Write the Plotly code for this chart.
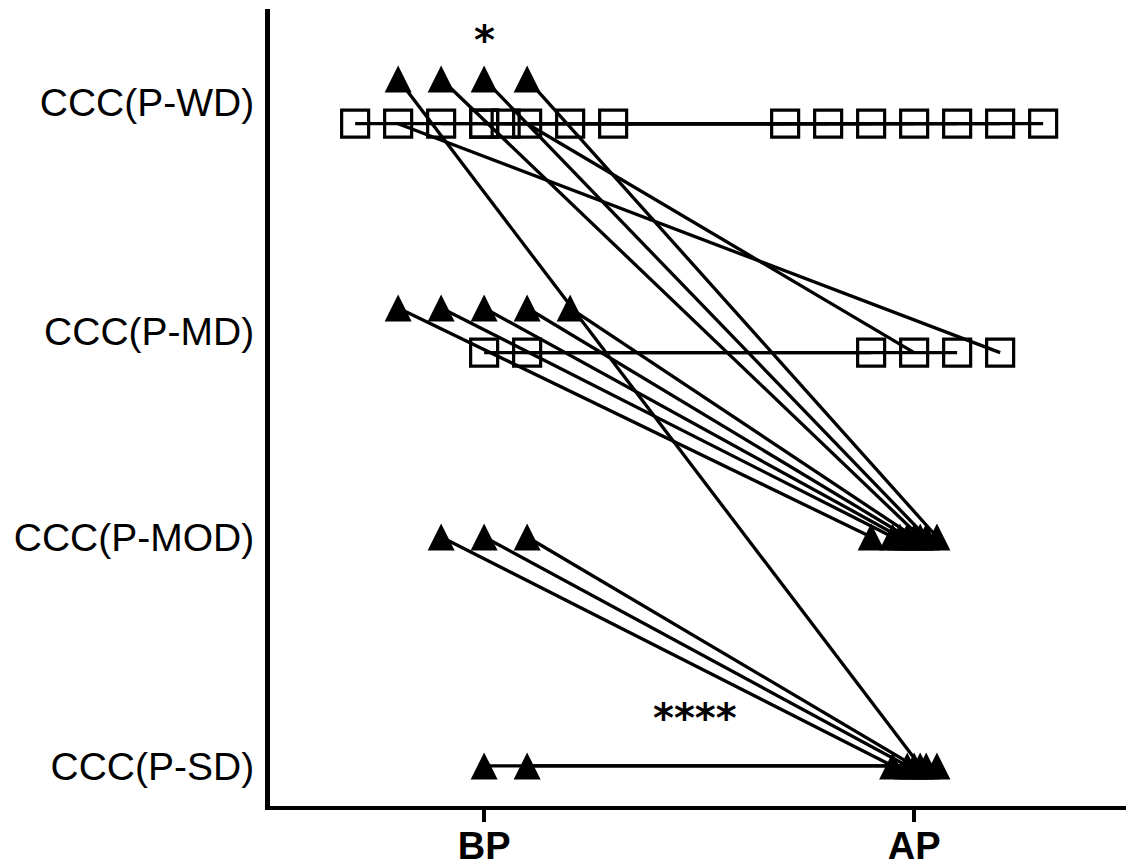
import plotly.graph_objects as go

# ---------------- data ----------------
level_names = ["CCC(P-SD)", "CCC(P-MOD)", "CCC(P-MD)", "CCC(P-WD)"]
timepoints = ["BP", "AP"]

# open-square group: one entry per subject (BP level, BP jitter slot, AP level, AP jitter slot)
sq_bp_level = ["WD", "WD", "WD", "WD", "WD", "WD", "WD", "WD", "WD", "MD", "MD"]
sq_bp_slot = [-3, -2, -1, 0, 0, 0.5, 1, 2, 3, 0, 1]
sq_ap_level = ["WD", "MD", "WD", "WD", "WD", "WD", "MD", "WD", "WD", "MD", "MD"]
sq_ap_slot = [3, 2, -3, -2, -1, 0, 0, 1, 2, -1, 1]

# filled-triangle group
tr_bp_level = ["WD", "WD", "WD", "WD",
               "MD", "MD", "MD", "MD", "MD",
               "MOD", "MOD", "MOD",
               "SD", "SD"]
tr_bp_slot = [-2, -1, 0, 1,
              -2, -1, 0, 1, 2,
              -1, 0, 1,
              0, 1]
tr_ap_level = ["SD", "MOD", "MOD", "MOD",
               "MOD", "MOD", "MOD", "MOD", "MOD",
               "SD", "SD", "SD",
               "SD", "SD"]
tr_ap_slot = [0.14, 0.14, 0.28, 0.53,
              -1, -0.5, -0.33, -0.16, 0,
              -0.5, -0.16, 0,
              0.28, 0.53]

sig_marks = ["*", "****"]

# ---------------- layout helpers ----------------
level_pos = {"SD": 1.0, "MOD": 2.0, "MD": 3.0, "WD": 4.0}
tick_pos = [1.0, 2.0, 2.9, 3.9]
square_drop = 0.195     # squares sit just below the triangles in shared rows
slot_w = 0.1
tp_pos = {"BP": 0.0, "AP": 1.0}
tri_shift = 13.5 / 229.0  # arrow-up tip sits at point; shift so the triangle is centred

fig = go.Figure()

def sq_y(lv):
    return level_pos[lv] - square_drop

# connecting lines (drawn first, under markers)
lx, ly = [], []
for bl, bs, al, as_ in zip(sq_bp_level, sq_bp_slot, sq_ap_level, sq_ap_slot):
    lx += [tp_pos["BP"] + bs * slot_w, tp_pos["AP"] + as_ * slot_w, None]
    ly += [sq_y(bl), sq_y(al), None]
for bl, bs, al, as_ in zip(tr_bp_level, tr_bp_slot, tr_ap_level, tr_ap_slot):
    lx += [tp_pos["BP"] + bs * slot_w, tp_pos["AP"] + as_ * slot_w, None]
    ly += [level_pos[bl], level_pos[al], None]
fig.add_trace(go.Scatter(x=lx, y=ly, mode="lines", line=dict(color="black", width=3.3),
                         hoverinfo="skip", showlegend=False))

# squares
sx = [tp_pos["BP"] + s * slot_w for s in sq_bp_slot] + [tp_pos["AP"] + s * slot_w for s in sq_ap_slot]
sy = [sq_y(l) for l in sq_bp_level] + [sq_y(l) for l in sq_ap_level]
fig.add_trace(go.Scatter(x=sx, y=sy, mode="markers",
                         marker=dict(symbol="square-open", size=27, color="black",
                                     line=dict(width=3.2, color="black")),
                         showlegend=False))

# triangles on an overlay axis shifted so the glyph is centred on its point
tx = [tp_pos["BP"] + s * slot_w for s in tr_bp_slot] + [tp_pos["AP"] + s * slot_w for s in tr_ap_slot]
ty = [level_pos[l] for l in tr_bp_level] + [level_pos[l] for l in tr_ap_level]
fig.add_trace(go.Scatter(x=tx, y=ty, mode="markers", yaxis="y2",
                         marker=dict(symbol="arrow-up", size=27, color="black",
                                     line=dict(width=0)),
                         showlegend=False))

yr = [0.825, 4.306]
fig.update_layout(
    width=1134, height=861,
    margin=dict(l=262, r=12, t=1, b=63),
    plot_bgcolor="white", paper_bgcolor="white",
    xaxis=dict(range=[-0.498, 1.502], tickvals=[tp_pos[t] for t in timepoints], ticktext=timepoints,
               showgrid=False, zeroline=False, showline=True, linecolor="black", linewidth=4,
               ticks="outside", ticklen=12, tickwidth=4, tickcolor="black", automargin=False,
               ticklabelstandoff=-9,
               tickfont=dict(family="Liberation Sans", size=38, color="black", weight="bold")),
    yaxis=dict(range=yr, tickvals=tick_pos, ticktext=[level_names[i] for i in range(4)],
               showgrid=False, zeroline=False, showline=True, linecolor="black", linewidth=5,
               ticks="", ticklabelstandoff=3, automargin=False,
               tickfont=dict(family="Liberation Sans", size=39, color="black")),
    yaxis2=dict(range=[yr[0] - tri_shift, yr[1] - tri_shift], overlaying="y", visible=False),
    annotations=[
        dict(x=0.0, y=4.17, xref="x", yref="y", text=sig_marks[0], showarrow=False,
             font=dict(family="DejaVu Sans", size=40, color="black", weight="bold")),
        dict(x=0.49, y=1.21, xref="x", yref="y", text=sig_marks[1], showarrow=False,
             font=dict(family="DejaVu Sans", size=40, color="black", weight="bold")),
    ],
)

fig.write_html("out.html")
